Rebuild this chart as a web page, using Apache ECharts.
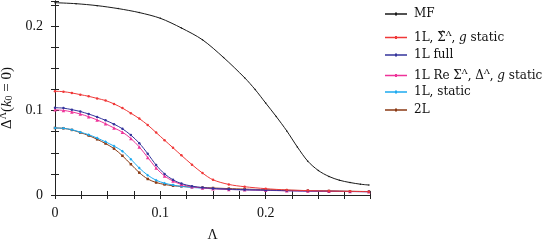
<!DOCTYPE html>
<html>
<head>
<meta charset="utf-8">
<script src="https://cdn.jsdelivr.net/npm/echarts@6/dist/echarts.min.js"></script>
<style>html,body{margin:0;padding:0;background:#fff}#c{width:553px;height:240px}</style>
</head>
<body>
<div id="c"></div>
<script>
// ---- data ----
var lambdaMF = [0, 0.02, 0.04, 0.06, 0.08, 0.1, 0.12, 0.14, 0.16, 0.18, 0.19, 0.2, 0.21, 0.22, 0.23, 0.24, 0.25, 0.26, 0.27, 0.28, 0.29, 0.298];
var mf       = [0.228, 0.2268, 0.2245, 0.221, 0.2163, 0.2095, 0.198, 0.184, 0.163, 0.139, 0.125, 0.109, 0.093, 0.076, 0.057, 0.040, 0.029, 0.022, 0.0175, 0.0148, 0.0128, 0.0118];

var lambda1L = [0, 0.008, 0.016, 0.024, 0.032, 0.04, 0.048, 0.056, 0.064, 0.072, 0.08, 0.088, 0.096, 0.104, 0.112, 0.12, 0.13, 0.14, 0.15, 0.165, 0.18, 0.2, 0.22, 0.24, 0.26, 0.28, 0.298];
var oneLSigmaStatic = [0.123, 0.1225, 0.121, 0.119, 0.117, 0.1145, 0.112, 0.108, 0.103, 0.097, 0.0906, 0.083, 0.074, 0.065, 0.056, 0.047, 0.036, 0.026, 0.018, 0.0125, 0.0098, 0.0075, 0.006, 0.0052, 0.0047, 0.0043, 0.004];
var oneLFull        = [0.1035, 0.103, 0.1012, 0.099, 0.096, 0.0925, 0.0885, 0.084, 0.0785, 0.071, 0.0615, 0.049, 0.0355, 0.025, 0.018, 0.0135, 0.0105, 0.0088, 0.0078, 0.0069, 0.0063, 0.0057, 0.0052, 0.0048, 0.0045, 0.0042, 0.004];
var oneLReSigma     = [0.101, 0.1003, 0.0985, 0.096, 0.0928, 0.089, 0.0845, 0.0795, 0.0745, 0.067, 0.057, 0.0445, 0.032, 0.0225, 0.0165, 0.0125, 0.0098, 0.0083, 0.0074, 0.0066, 0.0061, 0.0055, 0.005, 0.0046, 0.0043, 0.0041, 0.0039];
var oneLStatic      = [0.0795, 0.079, 0.0775, 0.0745, 0.0715, 0.0675, 0.063, 0.058, 0.052, 0.0425, 0.032, 0.0235, 0.0175, 0.014, 0.0118, 0.0102, 0.009, 0.0081, 0.0074, 0.0066, 0.0061, 0.0056, 0.0051, 0.0047, 0.0044, 0.0041, 0.0039];
var twoL            = [0.0795, 0.079, 0.0772, 0.074, 0.0705, 0.066, 0.061, 0.055, 0.0465, 0.0365, 0.0265, 0.019, 0.0148, 0.0125, 0.011, 0.0102, 0.0094, 0.0088, 0.0083, 0.0076, 0.007, 0.0063, 0.0057, 0.0052, 0.0048, 0.0044, 0.0041];

var xTickLabels = ['0', '0.1', '0.2'];
var yTickLabels = ['0', '0.1', '0.2'];

var seriesNames = ['MF', '1L, Σ̂Λ, g static', '1L full', '1L Re ΣΛ, ΔΛ, g static', '1L, static', '2L'];
var legendRich = [
  'MF',
  '1L, Σ̂{sup|Λ}, {it|g} static',
  '1L full',
  '1L Re Σ{sup|Λ}, Δ{sup|Λ}, {it|g} static',
  '1L, static',
  '2L'
];

// ---- chart ----
function zip(xs, ys) { return xs.map(function (x, i) { return [x, ys[i]]; }); }
var FONT = '"Liberation Serif", "DejaVu Serif", serif';
var LFONT = '"DejaVu Serif", serif';
var AX = '#222';
function tickFmt(labels) {
  return function (v) {
    var k = v * 10;
    if (Math.abs(k - Math.round(k)) < 1e-6) {
      var i = Math.round(k);
      return labels[i] !== undefined ? labels[i] : '';
    }
    return '';
  };
}

var specs = [
  {data: zip(lambdaMF, mf), color: '#1a1a1a', symbol: 'circle', size: 1.5},
  {data: zip(lambda1L, oneLSigmaStatic), color: '#f03838', symbol: 'circle', size: 2.5},
  {data: zip(lambda1L, oneLFull), color: '#34349c', symbol: 'circle', size: 2.5},
  {data: zip(lambda1L, oneLReSigma), color: '#ee3399', symbol: 'triangle', size: 3.5},
  {data: zip(lambda1L, oneLStatic), color: '#1eaaf0', symbol: 'diamond', size: 3},
  {data: zip(lambda1L, twoL), color: '#8b3a14', symbol: 'rect', size: 2.5}
];
var series = specs.map(function (s, i) {
  return {
    name: seriesNames[i], type: 'line', data: s.data, smooth: 0.3,
    symbol: s.symbol, symbolSize: s.size, showSymbol: true,
    lineStyle: {color: s.color, width: 1},
    itemStyle: {color: s.color},
    emphasis: {disabled: true}, animation: false, z: 10 - i
  };
});

var legendIcon = 'path://M0,0L0,0M22,8L22,8M0,3.2H22V4.8H0Z M10,2.6H12V5.4H10Z';
var legendTops = [16, 38, 57, 76, 94, 112];
var legends = seriesNames.map(function (n, i) {
  return {
    data: [{name: n, icon: legendIcon}], left: 385, top: legendTops[i] - 8, orient: 'vertical',
    itemWidth: 22, itemHeight: 8, padding: 0,
    selectedMode: false,
    formatter: function () { return legendRich[i]; },
    textStyle: {
      fontFamily: LFONT, fontSize: 12, color: '#111', padding: [0, 0, 0, 2],
      rich: {
        sup: {fontFamily: LFONT, fontSize: 8, padding: [0, 0, 7, 0], color: '#111'},
        it: {fontFamily: LFONT, fontSize: 12, fontStyle: 'italic', color: '#111'}
      }
    }
  };
});

var option = {
  animation: false,
  backgroundColor: '#fff',
  grid: {left: 55, right: 183, top: 1, bottom: 45, containLabel: false, outerBoundsMode: 'none'},
  legend: legends,
  xAxis: [{
    type: 'value', min: 0, max: 0.299, interval: 0.025,
    name: 'Λ', nameLocation: 'middle', nameGap: 33,
    nameTextStyle: {fontFamily: FONT, fontSize: 14, color: '#111'},
    axisLine: {show: true, lineStyle: {color: AX, width: 1}},
    axisTick: {show: true, inside: true, length: 4, lineStyle: {color: AX}},
    axisLabel: {fontFamily: FONT, fontSize: 14, color: '#111', margin: 11, formatter: tickFmt(xTickLabels)},
    splitLine: {show: false}
  }, {
    type: 'value', position: 'top', min: 0, max: 0.299, interval: 0.025,
    axisLine: {show: true, lineStyle: {color: AX, width: 1}},
    axisTick: {show: true, inside: true, length: 4, lineStyle: {color: AX}},
    axisLabel: {show: false}, splitLine: {show: false}
  }],
  yAxis: [{
    type: 'value', min: 0, max: 0.23, interval: 0.025,
    name: 'Δ{sup|Λ}({it|k}{sub|0} = 0)', nameLocation: 'middle', nameGap: 33, nameRotate: 90,
    nameTextStyle: {
      fontFamily: FONT, fontSize: 15, color: '#111',
      rich: {
        sup: {fontFamily: FONT, fontSize: 10, padding: [0, 0, 7, 0], color: '#111'},
        sub: {fontFamily: FONT, fontSize: 10, padding: [6, 0, 0, 0], color: '#111'},
        it: {fontFamily: FONT, fontSize: 15, fontStyle: 'italic', color: '#111'}
      }
    },
    axisLine: {show: true, lineStyle: {color: AX, width: 1}},
    axisTick: {show: true, inside: true, length: 4, lineStyle: {color: AX}},
    axisLabel: {fontFamily: FONT, fontSize: 14, color: '#111', margin: 12, formatter: tickFmt(yTickLabels)},
    splitLine: {show: false}
  }, {
    type: 'value', position: 'right', min: 0, max: 0.23, interval: 0.025,
    axisLine: {show: true, lineStyle: {color: AX, width: 1}},
    axisTick: {show: true, inside: true, length: 4, lineStyle: {color: AX}},
    axisLabel: {show: false}, splitLine: {show: false}
  }],
  series: series
};
var chart = echarts.init(document.getElementById('c'), null, {renderer: 'canvas'});
chart.setOption(option);
</script>
</body>
</html>
